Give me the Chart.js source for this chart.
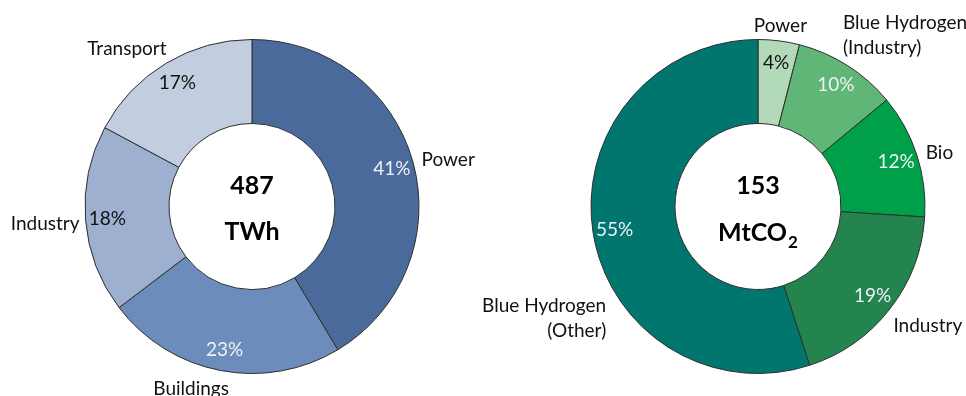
<!DOCTYPE html>
<html lang="en">
<head>
<meta charset="UTF-8">
<title>Energy and CO2 donuts</title>
<script src="https://cdn.jsdelivr.net/npm/chart.js"></script>
<style>
  html, body { margin: 0; padding: 0; background: #fff; overflow: hidden; }
  .box { position: absolute; top: 0; }
</style>
</head>
<body>
<div class="box" style="left:0"><canvas id="energy" width="483" height="396"></canvas></div>
<div class="box" style="left:483px"><canvas id="carbon" width="483" height="396"></canvas></div>
<script>
// data
const energyLabels = [['Power'], ['Buildings'], ['Industry'], ['Transport']];
const energyShares = [41, 23, 18, 17];
const energyTotal = '487';
const energyUnit = 'TWh';

const carbonLabels = [['Power'], ['Blue Hydrogen', '(Industry)'], ['Bio'], ['Industry'], ['Blue Hydrogen', '(Other)']];
const carbonShares = [4, 10, 12, 19, 55];
const carbonTotal = '153';
const carbonUnit = 'MtCO';
const carbonUnitSub = '2';

// looks
const FONT = 'Lato, "Liberation Sans", sans-serif';
const TEXT = '#111';
const LIGHT = '#eef2f8';

const energyStyle = {
    colors: ['#4a6a9b', '#6c8dbb', '#9db0d0', '#c2cde0'],
    pctColors: [LIGHT, LIGHT, TEXT, TEXT],
    align: ['left', 'center', 'right', 'right'],
    nudge: [[-3, 0], [-27, 6], [6, 2.5], [6.5, -5]]
};
const carbonStyle = {
    colors: ['#b2dab9', '#5fb677', '#00a04b', '#23844e', '#00766e'],
    pctColors: [TEXT, LIGHT, LIGHT, LIGHT, LIGHT],
    align: ['center', 'left', 'left', 'left', 'right'],
    nudge: [[0, -4], [-11, -21], [-2.5, 1], [-6, 9], [25, 83]]
};

const labelPlugin = {
    id: 'donutLabels',
    afterDraw(chart) {
        const st = chart.options.plugins.donutLabels;
        const ctx = chart.ctx;
        const arcs = chart.getDatasetMeta(0).data;
        const values = chart.data.datasets[0].data;
        const fs = 19;
        ctx.save();
        ctx.font = fs + 'px ' + FONT;
        arcs.forEach((arc, i) => {
            const p = arc.getProps(['x', 'y', 'startAngle', 'endAngle', 'innerRadius', 'outerRadius'], true);
            const mid = (p.startAngle + p.endAngle) / 2;
            const cx = Math.cos(mid), cy = Math.sin(mid);
            // percentage inside the ring
            const rp = p.innerRadius + 0.74 * (p.outerRadius - p.innerRadius);
            ctx.fillStyle = st.pctColors[i];
            ctx.textAlign = 'center';
            ctx.textBaseline = 'alphabetic';
            ctx.fillText(values[i] + '%', p.x + cx * rp, p.y + cy * rp + fs * 0.36);
            // category name outside
            const ro = p.outerRadius + 12;
            const lines = chart.data.labels[i];
            const ax = p.x + cx * ro + st.nudge[i][0];
            const ay = p.y + cy * ro + st.nudge[i][1];
            const lh = 25;
            ctx.fillStyle = TEXT;
            ctx.textAlign = st.align[i];
            lines.forEach((ln, k) => {
                const ly = ay + (k - (lines.length - 1) / 2) * lh;
                ctx.fillText(ln, ax, ly + fs * 0.36);
            });
        });
        // centre text
        const c = arcs[0].getProps(['x', 'y'], true);
        ctx.fillStyle = '#000';
        ctx.textAlign = 'center';
        ctx.font = 'bold 25px ' + FONT;
        ctx.fillText(st.total, c.x, c.y - 13);
        if (st.sub) {
            const w1 = ctx.measureText(st.unit).width;
            ctx.font = 'bold 17px ' + FONT;
            const w2 = ctx.measureText(st.sub).width;
            const left = c.x - (w1 + w2 + 1) / 2;
            ctx.textAlign = 'left';
            ctx.font = 'bold 25px ' + FONT;
            ctx.fillText(st.unit, left, c.y + 34.5);
            ctx.font = 'bold 17px ' + FONT;
            ctx.fillText(st.sub, left + w1 + 1, c.y + 41.5);
        } else {
            ctx.fillText(st.unit, c.x, c.y + 33.5);
        }
        ctx.restore();
    }
};

function makeDonut(id, labels, shares, style, total, unit, sub, padLeft) {
    new Chart(document.getElementById(id), {
        type: 'doughnut',
        data: {
            labels: labels,
            datasets: [{
                data: shares,
                backgroundColor: style.colors,
                borderColor: '#2e2e2e',
                borderWidth: 1,
                radius: 167,
                cutout: '49.7%'
            }]
        },
        options: {
            responsive: false,
            animation: false,
            layout: { padding: { left: padLeft, top: 17, right: 0, bottom: 0 } },
            plugins: {
                legend: { display: false },
                tooltip: { enabled: false },
                donutLabels: Object.assign({ total: total, unit: unit, sub: sub }, style)
            }
        },
        plugins: [labelPlugin]
    });
}

makeDonut('energy', energyLabels, energyShares, energyStyle, energyTotal, energyUnit, null, 21);
makeDonut('carbon', carbonLabels, carbonShares, carbonStyle, carbonTotal, carbonUnit, carbonUnitSub, 67);
</script>
</body>
</html>
